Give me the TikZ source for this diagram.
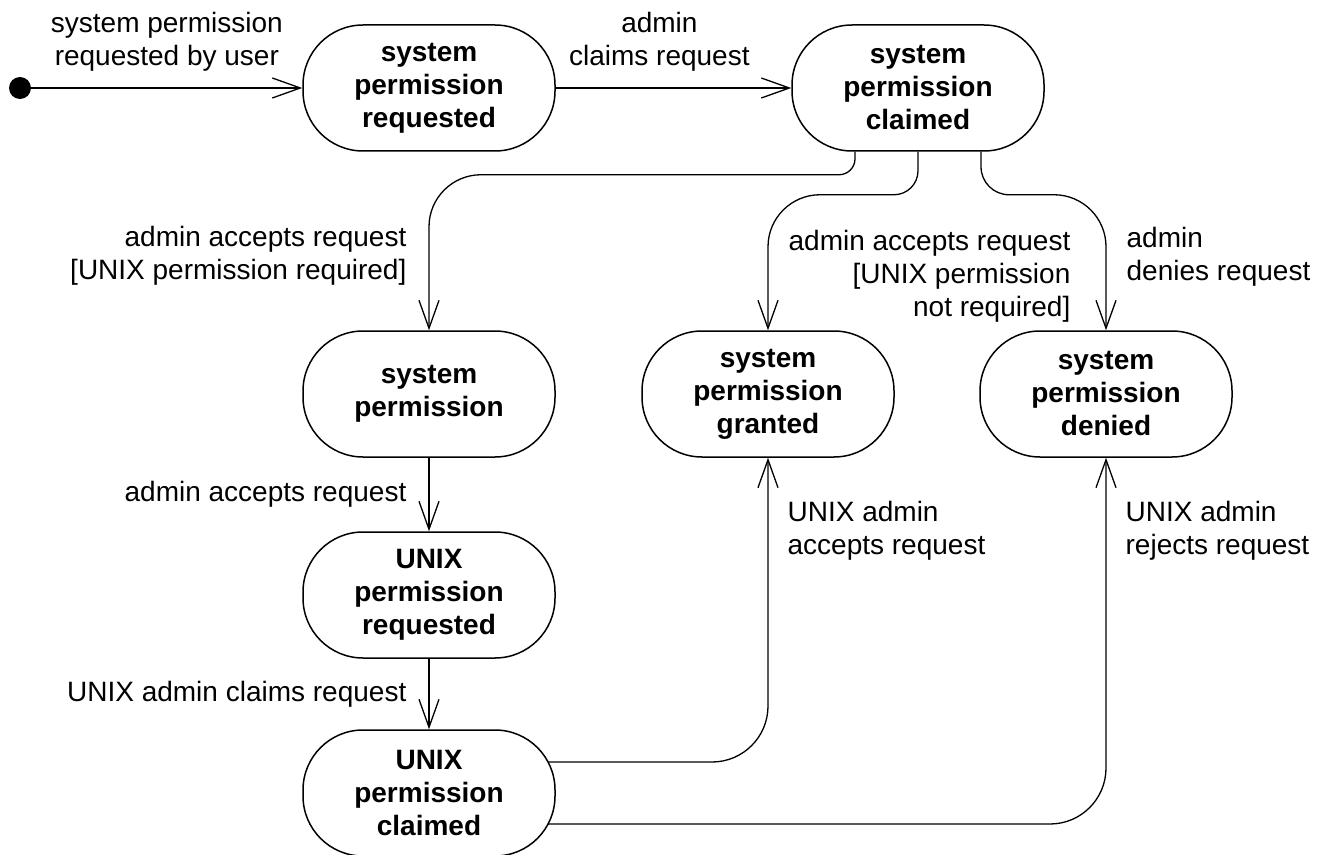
\documentclass[tikz,border=0pt]{standalone}
\usepackage{fontspec}
\setmainfont{Liberation Sans}
\usepackage{tikz}
\usetikzlibrary{arrows.meta,backgrounds}
\tikzset{
  st/.style={draw, line width=0.75pt, fill=white, rounded corners=30pt, minimum width=126pt, minimum height=63pt, inner sep=0pt, align=center, font=\fontsize{14}{16.5}\selectfont\bfseries},
  ini/.style={circle, fill=black, minimum size=11pt, inner sep=0pt},
  lbl/.style={inner sep=0pt, align=center, font=\fontsize{14}{16.5}\selectfont},
  tr/.style={draw, line width=0.65pt, -{Straight Barb[length=14pt, width=10pt]}}
}

\begin{document}
\begin{tikzpicture}[x=0.5pt, y=-0.5pt]
\useasboundingbox (0,0) rectangle (1331,855);
% states
\node[ini] (start) at (20,88) {};
\node[st] (sysreq) at (429,88) {system\\permission\\requested};
\node[st] (sysclm) at (918,88) {system\\permission\\claimed};
\node[st] (sysprm) at (429,394) {system\\permission};
\node[st] (sysgrt) at (768,394) {system\\permission\\granted};
\node[st] (sysdny) at (1106,394) {system\\permission\\denied};
\node[st] (uxreq) at (429,595) {UNIX\\permission\\requested};
\node[st] (uxclm) at (429,793) {UNIX\\permission\\claimed};
% transitions
\begin{scope}[on background layer]
\draw[tr] (start) -- node[lbl, above=8pt] {system permission\\requested by user} (sysreq);
\draw[tr] (sysreq) -- node[lbl, above=8pt, pos=0.44] {admin\\claims request} (sysclm);
\draw[tr] ([xshift=-31.5pt]sysclm.south) [rounded corners=8pt] -- ++(0,23)
  [rounded corners=26pt] -| node[lbl, left=11pt, pos=0.76, align=right] {admin accepts request\\{[}UNIX permission required]} (sysprm.north);
\draw[tr] (sysclm.south) [rounded corners=12pt] -- ++(0,43)
  [rounded corners=26pt] -| node[lbl, right=10pt, pos=0.8, align=right] {admin accepts request\\{[}UNIX permission\\not required]} (sysgrt.north);
\draw[tr] ([xshift=31.5pt]sysclm.south) [rounded corners=14pt] -- ++(0,43)
  [rounded corners=26pt] -| node[lbl, right=10pt, pos=0.73, align=left] {admin\\denies request} (sysdny.north);
\draw[tr] (sysprm) -- node[lbl, left=11pt] {admin accepts request} (uxreq);
\draw[tr] (uxreq) -- node[lbl, left=11pt] {UNIX admin claims request} (uxclm);
\draw[tr] ([yshift=15.5pt]uxclm.center) [rounded corners=28pt] -| node[lbl, right=9.5pt, pos=0.88, align=left] {UNIX admin\\accepts request} (sysgrt.south);
\draw[tr] ([yshift=-15.5pt]uxclm.center) [rounded corners=28pt] -| node[lbl, right=9.5pt, pos=0.9, align=left] {UNIX admin\\rejects request} (sysdny.south);
\end{scope}
\end{tikzpicture}
\end{document}
